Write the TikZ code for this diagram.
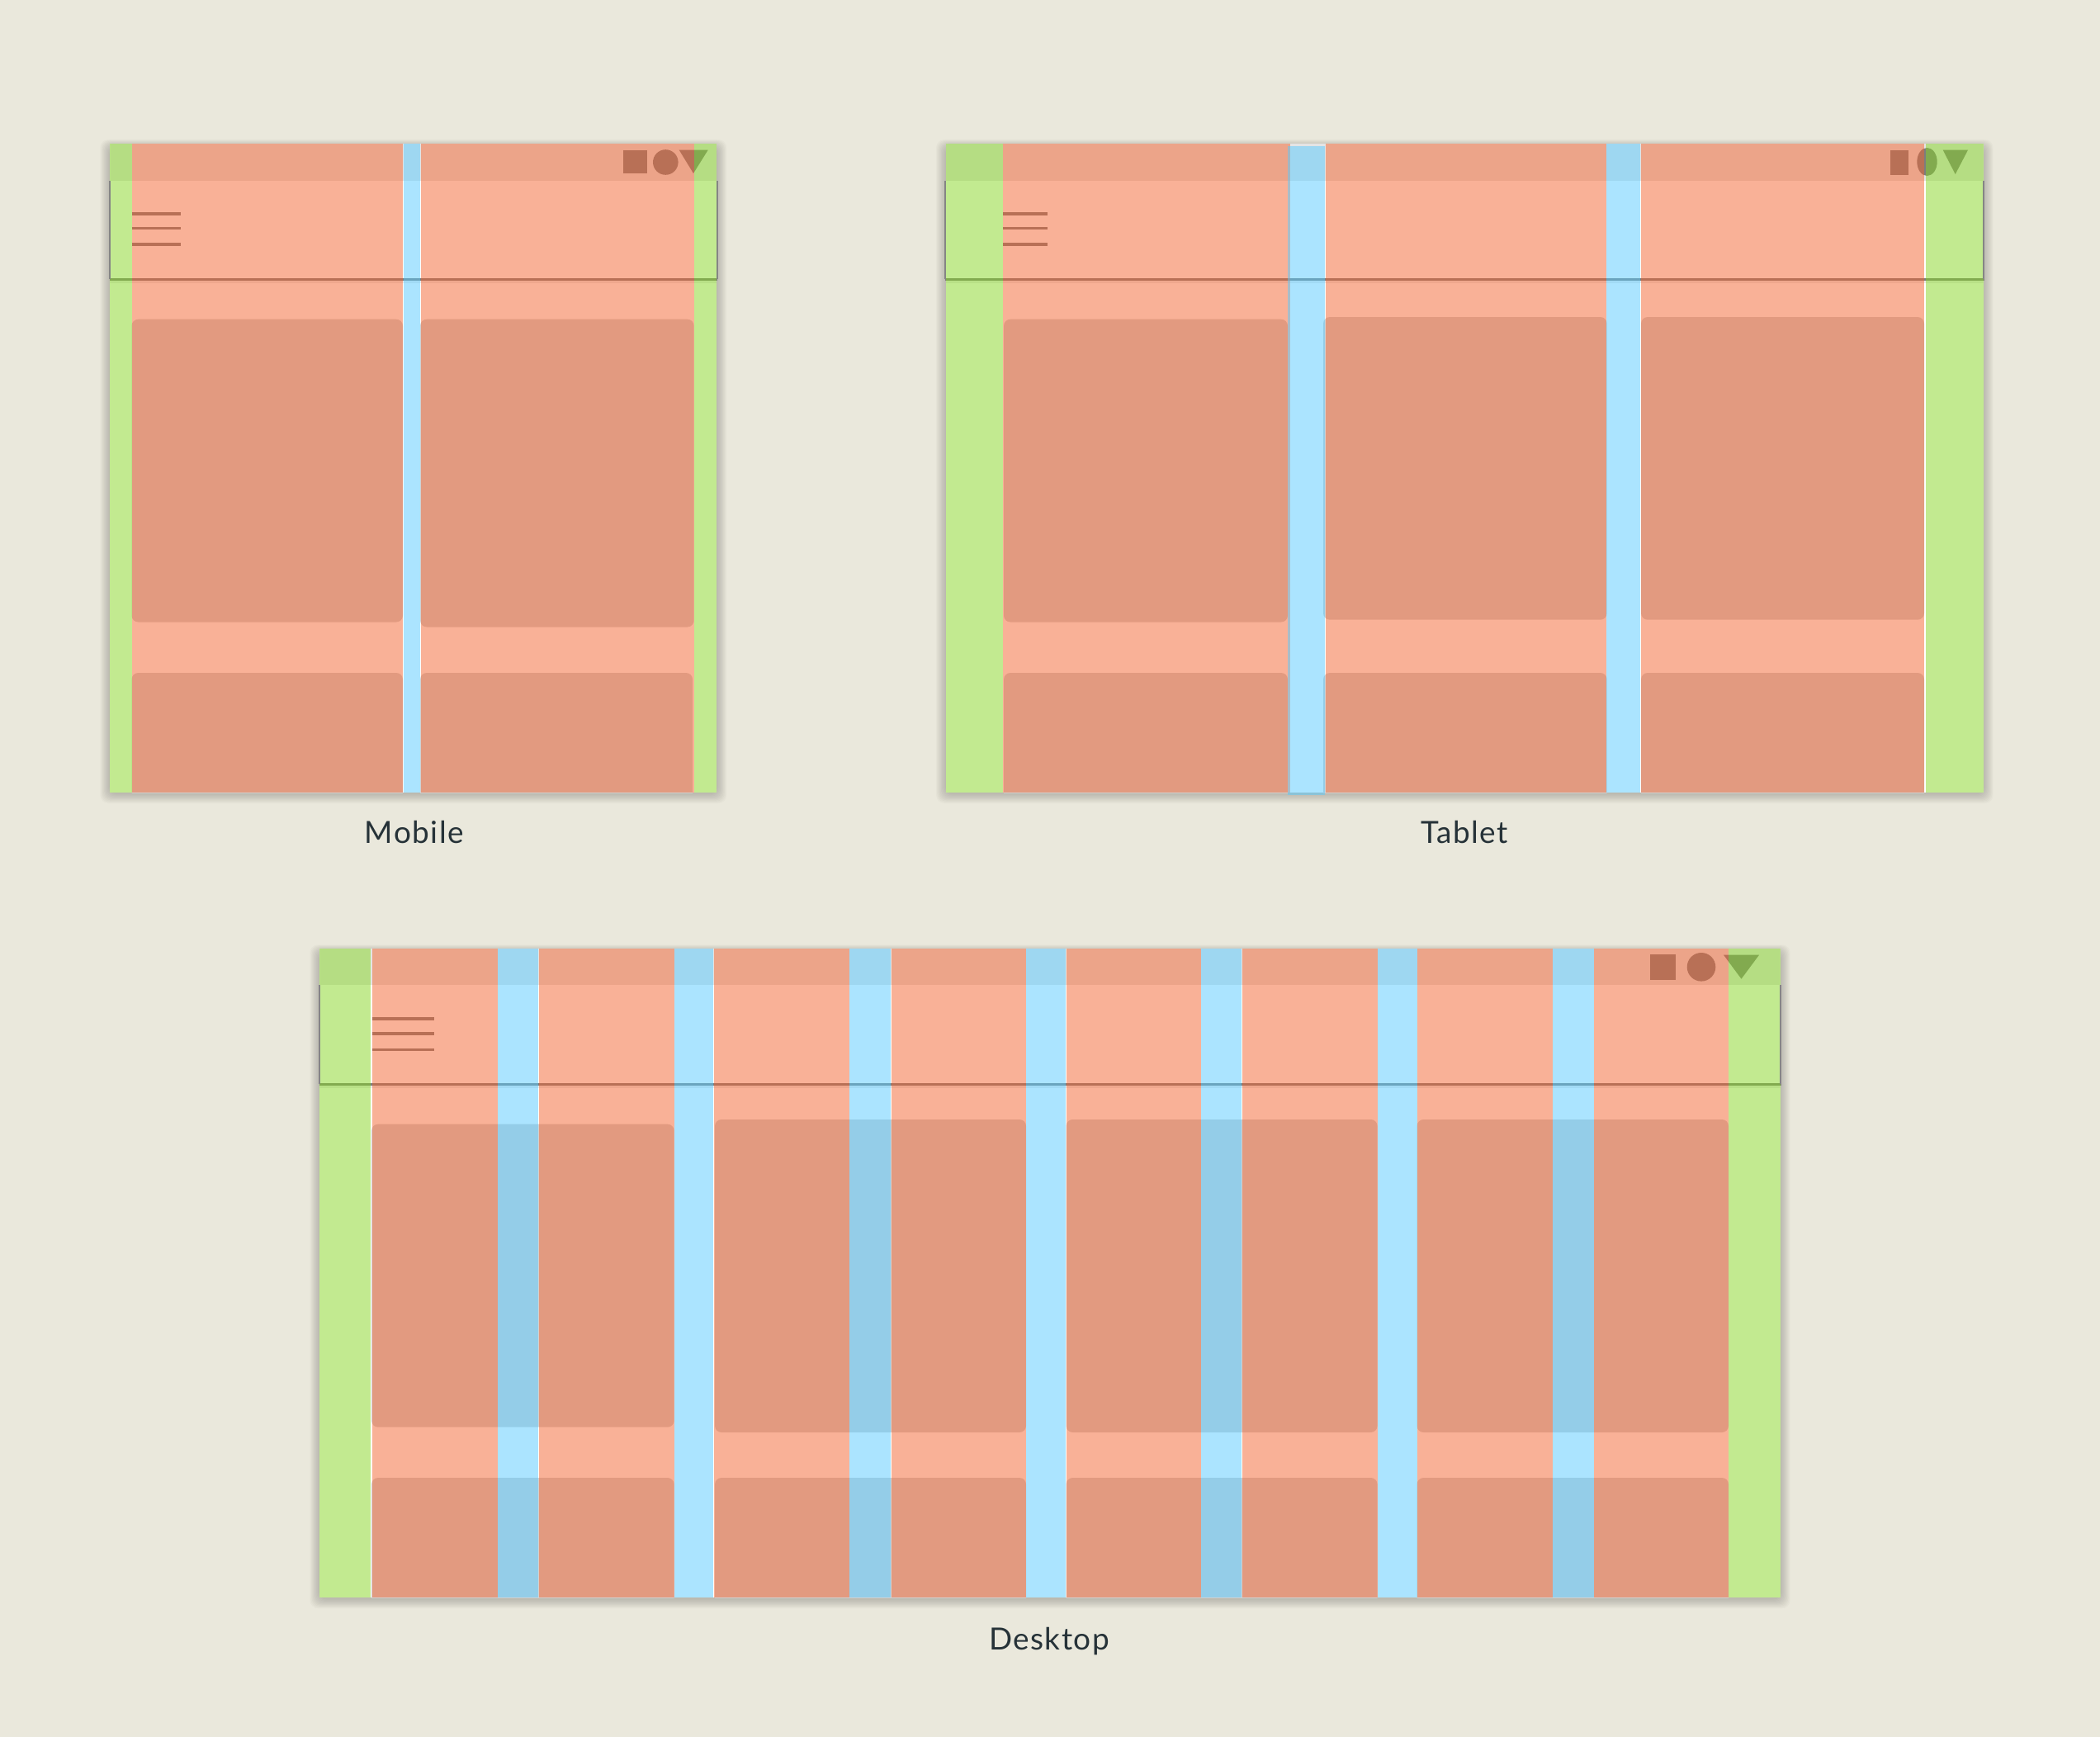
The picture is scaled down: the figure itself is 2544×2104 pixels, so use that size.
\documentclass[tikz,border=0pt]{standalone}
\usepackage{fontspec}
\setmainfont{Lato}
\definecolor{paper}{RGB}{234,232,220}
\definecolor{labelink}{RGB}{38,50,56}
\definecolor{headgrey}{RGB}{228,228,228}
\definecolor{cardgrey}{RGB}{209,209,209}
\definecolor{inkgrey}{RGB}{125,125,125}
\definecolor{pinkcol}{RGB}{244,101,48}
\definecolor{greencol}{RGB}{135,215,35}
\definecolor{bluecol}{RGB}{89,203,255}
\tikzset{
  halo/.style = {black,opacity=0.02,rounded corners=5pt},
  card/.style = {cardgrey,rounded corners=4pt},
  ink/.style = {inkgrey},
  burger/.style = {inkgrey,line width=1.8pt},
  pink/.style = {pinkcol,opacity=0.5},
  green/.style = {greencol,opacity=0.5},
  blue/.style = {bluecol,opacity=0.5},
  sideline/.style = {black!48,line width=0.9pt},
  caption/.style = {labelink,font=\fontsize{18.5}{22}\selectfont\addfontfeature{LetterSpace=4},anchor=base},
}
\begin{document}
\begin{tikzpicture}[x=0.5pt,y=-0.5pt]
\useasboundingbox (0,0) rectangle (2544,2104);
\fill[paper] (0,0) rectangle (2544,2104);
% mobile
\begin{scope}
    \foreach \i in {1,...,10}
        \fill[halo] (133.3-\i*1.2,174+4-\i*0.9) rectangle (868.3+\i*1.2,960+1+\i*1.2);
    \fill[white] (133.3,174) rectangle (868.3,960);
    \begin{scope}
        \clip (133.3,174) rectangle (868.3,960);
        \fill[headgrey] (133.3,174) rectangle (868.3,219);
        \fill[black!8] (133.3,340) rectangle (868.3,343);
        \foreach \a/\b/\t/\e in {159.5/488/386.7/753.5, 509/840.7/386.7/759.5, 159.5/488/815/990, 509/839/815/990}
            \fill[card] (\a,\t) rectangle (\b,\e);
    \end{scope}
    \fill[ink] (132.5,337) rectangle (869,340);
    \foreach \y in {259,276.3,296}
        \draw[burger] (159.5,\y) -- (218.7,\y);
    \fill[ink] (755,181.7) rectangle (783.7,210);
    \fill[ink] (806.3,196.5) circle (15.3);
    \fill[ink] (822.7,181.7) -- (857.7,181.7) -- (840,210) -- cycle;
    \fill[green] (133.3,174) rectangle (159.5,960);
    \fill[pink] (159.5,174) rectangle (488,960);
    \fill[blue] (489,174) rectangle (508.7,960);
    \fill[pink] (509.5,174) rectangle (840.7,960);
    \fill[green] (840.7,174) rectangle (868.3,960);
    \draw[sideline] (132.8,219) -- (132.8,338);
    \draw[sideline] (868.8,219) -- (868.8,338);
    \node[caption] (mobilelabel) at (502,1021.5) {Mobile};
\end{scope}
% tablet
\begin{scope}
    \foreach \i in {1,...,10}
        \fill[halo] (1146-\i*1.2,174+4-\i*0.9) rectangle (2402.7+\i*1.2,960+1+\i*1.2);
    \fill[white] (1146,174) rectangle (2402.7,960);
    \begin{scope}
        \clip (1146,174) rectangle (2402.7,960);
        \fill[headgrey] (1146,174) rectangle (2402.7,219);
        \fill[black!8] (1146,340) rectangle (2402.7,343);
        \foreach \a/\b/\t/\e in {1216/1560/386.7/753.5, 1603/1946.7/384/750.7, 1988/2331/384/750.7, 1216/1560/815/990, 1603/1946.7/815/990, 1988/2331/815/990}
            \fill[card] (\a,\t) rectangle (\b,\e);
    \end{scope}
    \fill[ink] (1145,337) rectangle (2403.5,340);
    \foreach \y in {259,276.3,296}
        \draw[burger] (1215,\y) -- (1269.3,\y);
    \fill[ink] (2290,181.7) rectangle (2312.3,212);
    \fill[ink] (2334.5,196) ellipse (12.2 and 17);
    \fill[ink] (2353.7,181.7) -- (2384,181.7) -- (2368.7,211) -- cycle;
    \fill[green] (1146,174) rectangle (1214.7,960);
    \fill[pink] (1215,174) rectangle (1563,960);
    \fill[blue] (1560,177.3) rectangle (1605,963);
    \fill[pink] (1606,174) rectangle (1946,960);
    \fill[blue] (1946,174) rectangle (1987,960);
    \fill[pink] (1988,174) rectangle (2330.7,960);
    \fill[green] (2333,174) rectangle (2402.7,960);
    \draw[sideline] (1145,219) -- (1145,338);
    \draw[sideline] (2403.2,219) -- (2403.2,338);
    \node[caption] (tabletlabel) at (1774,1021.5) {Tablet};
\end{scope}
% desktop
\begin{scope}
    \foreach \i in {1,...,10}
        \fill[halo] (387.3-\i*1.2,1149.3+4-\i*0.9) rectangle (2156.7+\i*1.2,1935.3+1+\i*1.2);
    \fill[white] (387.3,1149.3) rectangle (2156.7,1935.3);
    \begin{scope}
        \clip (387.3,1149.3) rectangle (2156.7,1935.3);
        \fill[headgrey] (387.3,1149.3) rectangle (2156.7,1193.3);
        \fill[black!8] (387.3,1315) rectangle (2156.7,1318);
        \foreach \a/\b/\t/\e in {450/816.7/1361.7/1728.7, 866/1243/1356/1735, 1291.5/1668.6/1356/1735, 1716.5/2094/1356/1735, 450/816.7/1790/1965, 866/1243/1790/1965, 1291.5/1668.6/1790/1965, 1716.5/2094/1790/1965}
            \fill[card] (\a,\t) rectangle (\b,\e);
    \end{scope}
    \fill[ink] (386.5,1312) rectangle (2157.5,1315);
    \foreach \y in {1234,1251.7,1271.3}
        \draw[burger] (451,\y) -- (526,\y);
    \fill[ink] (1998.7,1156) rectangle (2030,1187);
    \fill[ink] (2061,1171.3) circle (17.3);
    \fill[ink] (2088,1156.7) -- (2131,1156.7) -- (2109.5,1185.7) -- cycle;
    \fill[green] (387.3,1149.3) rectangle (449.3,1935.3);
    \foreach \a/\b in {450.5/602.7, 652.5/816.7, 865/1028.6, 1079.5/1243, 1292/1455, 1505/1668.6, 1717/1881, 1931/2094.3}
        \fill[pink] (\a,1149.3) rectangle (\b,1935.3);
    \foreach \a/\b in {602.7/651.7, 816.7/864, 1028.6/1079, 1243/1291.4, 1455/1504, 1668.6/1716.5, 1881/1930.7}
        \fill[blue] (\a,1149.3) rectangle (\b,1935.3);
    \fill[green] (2094.3,1149.3) rectangle (2156.7,1935.3);
    \draw[sideline] (386.8,1193.3) -- (386.8,1313);
    \draw[sideline] (2157.2,1193.3) -- (2157.2,1313);
    \node[caption] (desktoplabel) at (1271,1998.7) {Desktop};
\end{scope}
\end{tikzpicture}
\end{document}
